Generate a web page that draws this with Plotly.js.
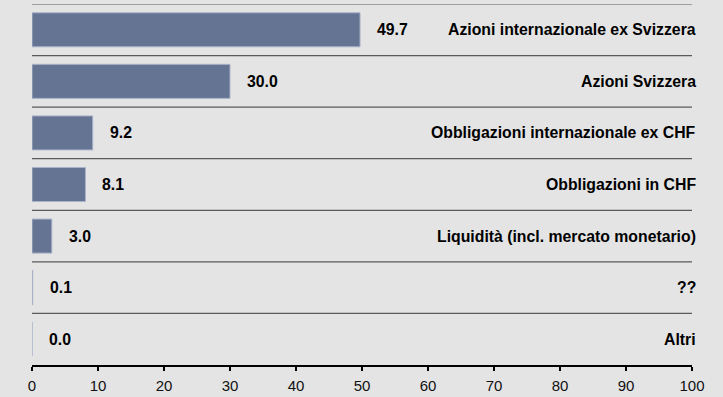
<!DOCTYPE html>
<html>
<head>
<meta charset="utf-8">
<script src="https://cdn.plot.ly/plotly-3.0.1.min.js"></script>
<style>
  html, body { margin: 0; padding: 0; background: #e4e4e4; }
  #chart { width: 723px; height: 397px; }
</style>
</head>
<body>
<div id="chart"></div>
<script>
// Asset allocation (percent), top to bottom
const categories = [
  "Azioni internazionale ex Svizzera",
  "Azioni Svizzera",
  "Obbligazioni internazionale ex CHF",
  "Obbligazioni in CHF",
  "Liquidità (incl. mercato monetario)",
  "??",
  "Altri"
];
const values = [49.7, 30.0, 9.2, 8.1, 3.0, 0.1, 0.0];
const xTicks = [0, 10, 20, 30, 40, 50, 60, 70, 80, 90, 100];

const idx = categories.map((_, i) => i);
const bg = "#e4e4e4";
const font = "Liberation Sans, Arial, Helvetica, sans-serif";

const trace = {
  type: "bar",
  orientation: "h",
  x: values,
  y: idx,
  width: 0.66,
  marker: { color: "#667493", line: { color: "#aab3c8", width: 1 } },
  hoverinfo: "none"
};

// separator rules above each row
const shapes = idx.map(i => ({
  type: "line", xref: "paper", x0: 0, x1: 1, yref: "y", y0: i - 0.5, y1: i - 0.5,
  line: { color: "#5a5a5a", width: 1.2 }
}));

const annotations = [];
idx.forEach(i => {
  annotations.push({
    x: values[i], y: i, xref: "x", yref: "y", xanchor: "left", yanchor: "middle",
    xshift: 15, showarrow: false, text: "<b>" + values[i].toFixed(1) + "</b>",
    font: { family: font, size: 15.8, color: "#000" }
  });
  annotations.push({
    x: 1, y: i, xref: "paper", yref: "y", xanchor: "right", yanchor: "middle",
    xshift: 6, showarrow: false, text: "<b>" + categories[i] + "</b>",
    font: { family: font, size: 15.8, color: "#000" }
  });
});

const layout = {
  width: 723, height: 397,
  margin: { l: 32, r: 31, t: 4, b: 32, pad: 0 },
  paper_bgcolor: bg, plot_bgcolor: bg,
  showlegend: false,
  bargap: 0,
  xaxis: {
    range: [0, 100], tickvals: xTicks, ticktext: xTicks.map(String),
    showgrid: false, zeroline: false,
    showline: true, linecolor: "#000", linewidth: 2,
    ticks: "outside", ticklen: 4, tickwidth: 2, tickcolor: "#000",
    ticklabelstandoff: 2,
    tickfont: { family: font, size: 15, color: "#111" }
  },
  yaxis: {
    range: [6.5, -0.5], showticklabels: false, showgrid: false,
    zeroline: false, showline: false, ticks: ""
  },
  shapes: shapes,
  annotations: annotations
};

Plotly.newPlot("chart", [trace], layout, { staticPlot: true, displayModeBar: false });
</script>
</body>
</html>
